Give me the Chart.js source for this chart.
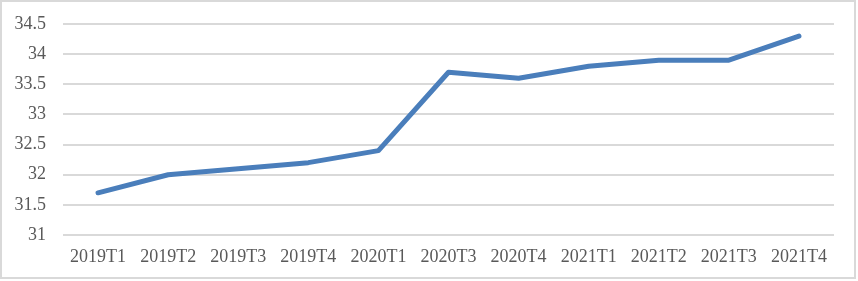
<!DOCTYPE html>
<html>
<head>
<meta charset="utf-8">
<script src="https://cdn.jsdelivr.net/npm/chart.js@4/dist/chart.umd.min.js"></script>
<style>
  body { margin: 0; background: #fff; }
  #wrap { position: relative; width: 858px; height: 281px; }
  #frame { position: absolute; left: 0; top: 0; width: 852px; height: 275px; border: 2px solid #d9d9d9; }
  canvas { position: absolute; left: 0; top: 0; }
</style>
</head>
<body>
<div id="wrap">
  <div id="frame"></div>
  <canvas id="myChart" width="858" height="281"></canvas>
</div>
<script>
const labels = ['2019T1', '2019T2', '2019T3', '2019T4', '2020T1', '2020T3', '2020T4', '2021T1', '2021T2', '2021T3', '2021T4'];
const values = [31.7, 32.0, 32.1, 32.2, 32.4, 33.7, 33.6, 33.8, 33.9, 33.9, 34.3];
const yMin = 31;
const yMax = 34.5;
const yStep = 0.5;

const font = { family: '"Liberation Serif", "Times New Roman", serif', size: 18 };

const ctx = document.getElementById('myChart').getContext('2d');
const myChart = new Chart(ctx, {
  type: 'line',
  data: {
    labels: labels,
    datasets: [{
      data: values,
      borderColor: '#4a7ebb',
      borderWidth: 5,
      pointRadius: 0,
      tension: 0,
      borderCapStyle: 'round',
      borderJoinStyle: 'round',
      fill: false
    }]
  },
  options: {
    responsive: false,
    animation: false,
    plugins: { legend: { display: false }, tooltip: { enabled: false } },
    layout: { padding: { left: 0, right: 24, top: 24, bottom: 0 } },
    scales: {
      x: {
        offset: true,
        grid: { display: false, drawTicks: false },
        border: { display: false },
        ticks: { color: '#595959', font: font, padding: 11, maxRotation: 0, autoSkip: false },
        afterFit: scale => { scale.height = 46; scale.paddingLeft = 0; scale.paddingRight = 0; }
      },
      y: {
        min: yMin,
        max: yMax,
        grid: { color: '#d9d9d9', lineWidth: 2, drawTicks: false },
        border: { display: false },
        ticks: {
          stepSize: yStep,
          color: '#595959',
          font: font,
          padding: 17,
          callback: v => String(v)
        },
        afterFit: scale => { scale.width = 63; scale.paddingTop = 0; scale.paddingBottom = 0; }
      }
    }
  }
});
</script>
</body>
</html>
